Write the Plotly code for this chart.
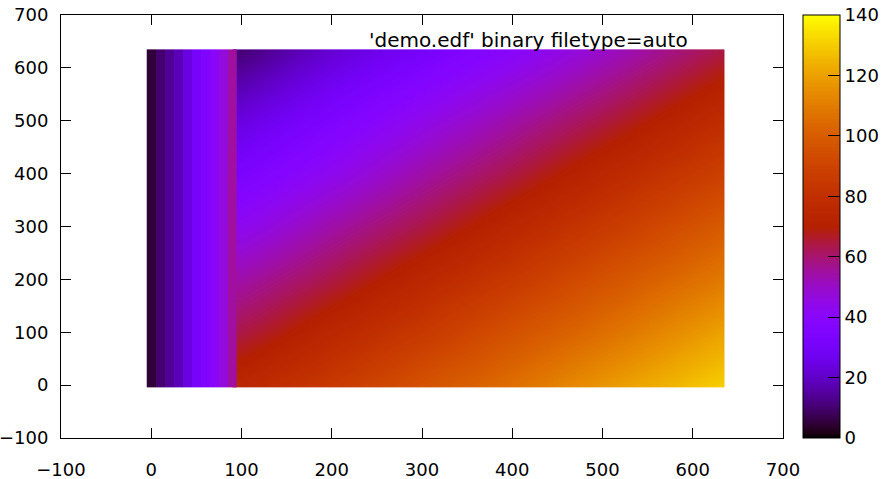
import math
import plotly.graph_objects as go

# ---- data ----
# Left block: ten constant columns (cell edges every 10 units)
stripe_x_edges = [-5, 5, 15, 25, 35, 45, 55, 65, 75, 85, 95]
stripe_y_edges = [-5, 635]
stripe_values = [5, 10, 14, 18, 24, 31, 35, 40, 47, 55]

# Right block: readings at these cell centres
grad_x = [100, 120, 200, 300, 400, 500, 620, 630]
grad_y = [0, 10, 100, 200, 300, 400, 500, 620, 630]
grad_values = [
    [75, 77, 85, 96, 106, 117, 129, 130],   # y = 0
    [74, 76, 84, 95, 105, 116, 128, 129],   # y = 10
    [64, 66, 75, 85, 96, 106, 119, 120],    # y = 100
    [54, 56, 64, 75, 85, 96, 108, 109],     # y = 200
    [43, 45, 54, 64, 75, 85, 98, 99],       # y = 300
    [33, 35, 43, 54, 64, 75, 87, 88],       # y = 400
    [24, 26, 34, 44, 54, 64, 77, 78],       # y = 500
    [12, 14, 23, 32, 41, 51, 64, 65],       # y = 620
    [11, 13, 22, 31, 40, 50, 63, 64],       # y = 630
]

cb_min, cb_max = 0, 140
axis_ticks = [-100, 0, 100, 200, 300, 400, 500, 600, 700]
cb_ticks = [0, 20, 40, 60, 80, 100, 120, 140]
legend_text = "'demo.edf' binary filetype=auto"

# ---- gnuplot default palette (rgbformulae 7,5,15) ----
def pal(t):
    r = math.sqrt(t)
    g = t ** 3
    b = max(0.0, min(1.0, math.sin(2 * math.pi * t)))
    return "rgb(%d,%d,%d)" % (round(r * 255), round(g * 255), round(b * 255))

n = 80
colorscale = [[i / n, pal(i / n)] for i in range(n + 1)]

FONT = "DejaVu Sans"
FS = 18

fig = go.Figure()
fig.add_trace(go.Heatmap(
    x=grad_x, y=grad_y, z=grad_values, zsmooth="best",
    coloraxis="coloraxis", hoverinfo="skip",
))
fig.add_trace(go.Heatmap(
    x=stripe_x_edges, y=stripe_y_edges, z=[stripe_values],
    coloraxis="coloraxis", hoverinfo="skip",
))

axis_common = dict(
    tickvals=axis_ticks, ticks="inside", ticklen=10, tickcolor="black",
    mirror="ticks", showline=True, linecolor="black", linewidth=1,
    showgrid=False, zeroline=False, automargin=False,
    tickfont=dict(family=FONT, size=FS, color="black"),
)
fig.update_xaxes(range=[-100, 700], ticklabelstandoff=15, **axis_common)
fig.update_yaxes(range=[-100, 700], ticklabelstandoff=8, **axis_common)

fig.update_layout(
    width=893, height=479,
    margin=dict(l=61, r=110, t=15, b=41, autoexpand=False),
    paper_bgcolor="white", plot_bgcolor="white",
    coloraxis=dict(
        colorscale=colorscale, cmin=cb_min, cmax=cb_max,
        colorbar=dict(
            x=1.0277, xanchor="left", xpad=0, y=0.5, yanchor="middle",
            len=1, lenmode="fraction", thickness=37, ypad=0,
            outlinewidth=1, outlinecolor="black",
            tickvals=cb_ticks, ticks="inside", ticklen=12, tickcolor="black",
            tickprefix="\u00a0\u00a0\u00a0",
            tickfont=dict(family=FONT, size=FS, color="black"),
        ),
    ),
    annotations=[dict(
        text=legend_text, xref="paper", yref="paper",
        x=(690 - 61) / 722, y=(438 - 40) / 423,
        xanchor="right", yanchor="middle", showarrow=False,
        font=dict(family=FONT, size=20, color="black"),
    )],
)

# remove the default page margin so the figure sits at the window's corner
fig.write_html(
    "out.html",
    config={"displayModeBar": False},
    post_script="document.body.style.margin='0';document.body.style.overflow='hidden';",
)
